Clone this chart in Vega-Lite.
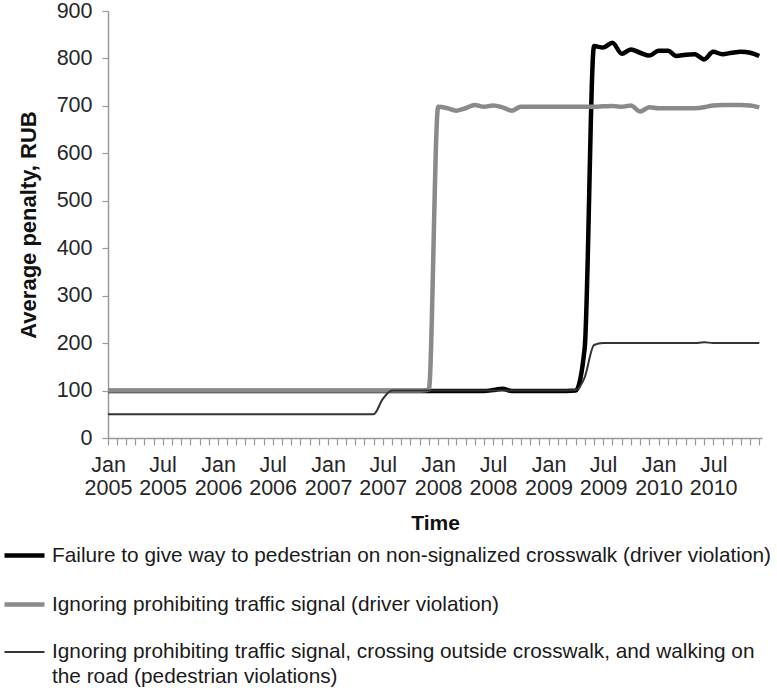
{
  "$schema": "https://vega.github.io/schema/vega-lite/v6.json",
  "autosize": "none",
  "width": 654,
  "height": 427,
  "padding": {"left": 108, "top": 11, "right": 15, "bottom": 253},
  "background": "white",
  "config": {
    "view": {"stroke": null},
    "font": "Liberation Sans",
    "axis": {"grid": false, "domainColor": "#9a9a9a", "domainWidth": 1.5, "tickColor": "#9a9a9a", "tickWidth": 1.2, "labelColor": "#262626", "titleColor": "#111111", "labelFont": "Liberation Sans", "titleFont": "Liberation Sans"}
  },
  "data": {
    "values": [
      {"month": "2005/01/01", "failure": 99, "signal": 100, "pedestrian": 50},
      {"month": "2005/02/01", "failure": 99, "signal": 100, "pedestrian": 50},
      {"month": "2005/03/01", "failure": 99, "signal": 100, "pedestrian": 50},
      {"month": "2005/04/01", "failure": 99, "signal": 100, "pedestrian": 50},
      {"month": "2005/05/01", "failure": 99, "signal": 100, "pedestrian": 50},
      {"month": "2005/06/01", "failure": 99, "signal": 100, "pedestrian": 50},
      {"month": "2005/07/01", "failure": 99, "signal": 100, "pedestrian": 50},
      {"month": "2005/08/01", "failure": 99, "signal": 100, "pedestrian": 50},
      {"month": "2005/09/01", "failure": 99, "signal": 100, "pedestrian": 50},
      {"month": "2005/10/01", "failure": 99, "signal": 100, "pedestrian": 50},
      {"month": "2005/11/01", "failure": 99, "signal": 100, "pedestrian": 50},
      {"month": "2005/12/01", "failure": 99, "signal": 100, "pedestrian": 50},
      {"month": "2006/01/01", "failure": 99, "signal": 100, "pedestrian": 50},
      {"month": "2006/02/01", "failure": 99, "signal": 100, "pedestrian": 50},
      {"month": "2006/03/01", "failure": 99, "signal": 100, "pedestrian": 50},
      {"month": "2006/04/01", "failure": 99, "signal": 100, "pedestrian": 50},
      {"month": "2006/05/01", "failure": 99, "signal": 100, "pedestrian": 50},
      {"month": "2006/06/01", "failure": 99, "signal": 100, "pedestrian": 50},
      {"month": "2006/07/01", "failure": 99, "signal": 100, "pedestrian": 50},
      {"month": "2006/08/01", "failure": 99, "signal": 100, "pedestrian": 50},
      {"month": "2006/09/01", "failure": 99, "signal": 100, "pedestrian": 50},
      {"month": "2006/10/01", "failure": 99, "signal": 100, "pedestrian": 50},
      {"month": "2006/11/01", "failure": 99, "signal": 100, "pedestrian": 50},
      {"month": "2006/12/01", "failure": 99, "signal": 100, "pedestrian": 50},
      {"month": "2007/01/01", "failure": 99, "signal": 100, "pedestrian": 50},
      {"month": "2007/02/01", "failure": 99, "signal": 100, "pedestrian": 50},
      {"month": "2007/03/01", "failure": 99, "signal": 100, "pedestrian": 50},
      {"month": "2007/04/01", "failure": 99, "signal": 100, "pedestrian": 50},
      {"month": "2007/05/01", "failure": 99, "signal": 100, "pedestrian": 50},
      {"month": "2007/06/01", "failure": 99, "signal": 100, "pedestrian": 50},
      {"month": "2007/07/01", "failure": 99, "signal": 100, "pedestrian": 82},
      {"month": "2007/08/01", "failure": 99, "signal": 100, "pedestrian": 100},
      {"month": "2007/09/01", "failure": 99, "signal": 100, "pedestrian": 100},
      {"month": "2007/10/01", "failure": 99, "signal": 100, "pedestrian": 100},
      {"month": "2007/11/01", "failure": 99, "signal": 100, "pedestrian": 100},
      {"month": "2007/12/01", "failure": 99, "signal": 102, "pedestrian": 100},
      {"month": "2008/01/01", "failure": 99, "signal": 698, "pedestrian": 100},
      {"month": "2008/02/01", "failure": 99, "signal": 695, "pedestrian": 100},
      {"month": "2008/03/01", "failure": 99, "signal": 690, "pedestrian": 100},
      {"month": "2008/04/01", "failure": 99, "signal": 695, "pedestrian": 100},
      {"month": "2008/05/01", "failure": 99, "signal": 702, "pedestrian": 100},
      {"month": "2008/06/01", "failure": 99, "signal": 698, "pedestrian": 100},
      {"month": "2008/07/01", "failure": 101, "signal": 701, "pedestrian": 100},
      {"month": "2008/08/01", "failure": 104, "signal": 697, "pedestrian": 100},
      {"month": "2008/09/01", "failure": 99, "signal": 690, "pedestrian": 100},
      {"month": "2008/10/01", "failure": 99, "signal": 698, "pedestrian": 100},
      {"month": "2008/11/01", "failure": 99, "signal": 698, "pedestrian": 100},
      {"month": "2008/12/01", "failure": 99, "signal": 698, "pedestrian": 100},
      {"month": "2009/01/01", "failure": 99, "signal": 698, "pedestrian": 100},
      {"month": "2009/02/01", "failure": 99, "signal": 698, "pedestrian": 100},
      {"month": "2009/03/01", "failure": 99, "signal": 698, "pedestrian": 100},
      {"month": "2009/04/01", "failure": 100, "signal": 698, "pedestrian": 101},
      {"month": "2009/05/01", "failure": 190, "signal": 698, "pedestrian": 128},
      {"month": "2009/06/01", "failure": 826, "signal": 698, "pedestrian": 196},
      {"month": "2009/07/01", "failure": 823, "signal": 699, "pedestrian": 200},
      {"month": "2009/08/01", "failure": 833, "signal": 700, "pedestrian": 200},
      {"month": "2009/09/01", "failure": 810, "signal": 698, "pedestrian": 200},
      {"month": "2009/10/01", "failure": 819, "signal": 701, "pedestrian": 200},
      {"month": "2009/11/01", "failure": 812, "signal": 688, "pedestrian": 200},
      {"month": "2009/12/01", "failure": 806, "signal": 697, "pedestrian": 200},
      {"month": "2010/01/01", "failure": 816, "signal": 695, "pedestrian": 200},
      {"month": "2010/02/01", "failure": 816, "signal": 695, "pedestrian": 200},
      {"month": "2010/03/01", "failure": 805, "signal": 695, "pedestrian": 200},
      {"month": "2010/04/01", "failure": 808, "signal": 695, "pedestrian": 200},
      {"month": "2010/05/01", "failure": 809, "signal": 695, "pedestrian": 200},
      {"month": "2010/06/01", "failure": 798, "signal": 697, "pedestrian": 202},
      {"month": "2010/07/01", "failure": 814, "signal": 701, "pedestrian": 200},
      {"month": "2010/08/01", "failure": 809, "signal": 702, "pedestrian": 200},
      {"month": "2010/09/01", "failure": 812, "signal": 702, "pedestrian": 200},
      {"month": "2010/10/01", "failure": 814, "signal": 702, "pedestrian": 200},
      {"month": "2010/11/01", "failure": 812, "signal": 701, "pedestrian": 200},
      {"month": "2010/12/01", "failure": 805, "signal": 697, "pedestrian": 200}
    ]
  },
  "transform": [{"fold": ["failure", "signal", "pedestrian"], "as": ["series", "penalty"]}],
  "mark": {"type": "line", "interpolate": "monotone", "strokeJoin": "round", "strokeCap": "butt"},
  "encoding": {
    "x": {
      "field": "month", "type": "temporal",
      "scale": {"domain": [{"year": 2005, "month": 1, "date": 1}, {"year": 2010, "month": 12, "date": 10}], "nice": false},
      "axis": {
        "title": "Time", "titleFontSize": 21, "titleFontWeight": "bold", "titlePadding": 14,
        "tickCount": {"interval": "month", "step": 1},
        "labelExpr": "month(datum.value) == 0 || month(datum.value) == 6 ? [timeFormat(datum.value, '%b'), timeFormat(datum.value, '%Y')] : ''",
        "labelOverlap": false, "labelFlush": false, "labelBound": false,
        "labelFontSize": 21.5, "labelLineHeight": 23, "labelPadding": 9, "tickSize": 7
      }
    },
    "y": {
      "field": "penalty", "type": "quantitative",
      "scale": {"domain": [0, 900], "nice": false},
      "axis": {
        "title": "Average  penalty, RUB", "titleFontSize": 22, "titleFontWeight": "bold", "titlePadding": 16,
        "values": [0, 100, 200, 300, 400, 500, 600, 700, 800, 900],
        "labelFontSize": 21.5, "labelPadding": 10, "tickSize": 6
      }
    },
    "color": {
      "field": "series", "type": "nominal",
      "scale": {"domain": ["failure", "signal", "pedestrian"], "range": ["#000000", "#8a8a8a", "#333333"]},
      "legend": {
        "orient": "none", "legendX": -106, "legendY": 522, "direction": "vertical", "title": null,
        "symbolType": "stroke", "symbolSize": 1600, "rowPadding": 16, "labelOffset": 5,
        "labelFontSize": 20.8, "labelColor": "#1a1a1a", "labelLimit": 0,
        "labelExpr": "datum.value == 'failure' ? 'Failure to give way to pedestrian on non-signalized crosswalk (driver violation)' : datum.value == 'signal' ? 'Ignoring prohibiting traffic signal (driver violation)' : ['Ignoring prohibiting traffic signal, crossing outside crosswalk, and walking on', 'the road (pedestrian violations)']",
        "encode": {
          "symbols": {"update": {"strokeWidth": {"signal": "datum.value == 'pedestrian' ? 2 : 5"}}},
          "labels": {"update": {"lineHeight": {"value": 25}}}
        }
      }
    },
    "strokeWidth": {
      "field": "series", "type": "nominal",
      "scale": {"type": "ordinal", "domain": ["failure", "signal", "pedestrian"], "range": [4.5, 4.5, 2]},
      "legend": null
    }
  }
}
